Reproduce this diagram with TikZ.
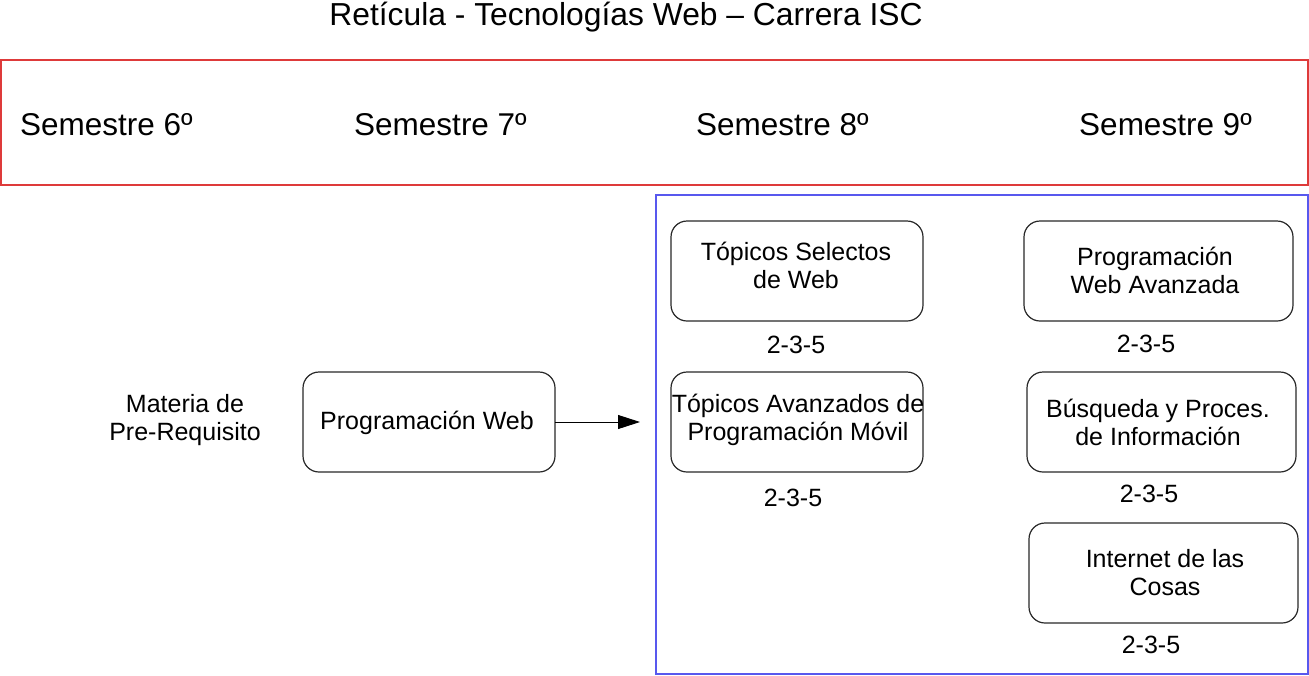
\documentclass[tikz,border=0pt]{standalone}
\usepackage{fontspec}
\setmainfont{Liberation Sans}
\usetikzlibrary{arrows.meta}
\definecolor{framered}{RGB}{222,58,58}
\definecolor{frameblue}{RGB}{88,88,238}
\definecolor{boxline}{RGB}{40,40,40}
\tikzset{
  subj/.style={draw=boxline, line width=1.2pt, rounded corners=16pt, rectangle,
    minimum width=252pt, minimum height=100pt, inner sep=0pt, outer sep=0pt},
  subjw/.style={subj, minimum width=269pt},
  txt/.style={inner sep=0pt, align=center, font=\fontsize{25}{28}\selectfont},
  credit/.style={inner sep=0pt, font=\fontsize{25}{28}\selectfont},
  semlabel/.style={inner sep=0pt, anchor=base, font=\fontsize{31.5}{34}\selectfont},
  titlestyle/.style={inner sep=0pt, anchor=base, font=\fontsize{31.8}{34}\selectfont},
  link/.style={line width=0.9pt, -{Triangle[length=22pt,width=14pt]}}
}
\begin{document}
\begin{tikzpicture}[x=1pt,y=-1pt]
\useasboundingbox (0,0) rectangle (1309,675);
% title
\node[titlestyle] (title) at (626,25) {Retícula - Tecnologías Web – Carrera ISC};
% semester band
\draw[framered, line width=1.2pt] (1,60) rectangle (1308,185);
\node[semlabel] (s6) at (106.5,135) {Semestre 6º};
\node[semlabel] (s7) at (440.5,135) {Semestre 7º};
\node[semlabel] (s8) at (782.5,135) {Semestre 8º};
\node[semlabel] (s9) at (1165.5,135) {Semestre 9º};
% blue frame
\draw[frameblue, line width=1.2pt] (656,195) rectangle (1308,674);
% prerequisite
\node[txt] (pre) at (185,420) {Materia de\\Pre-Requisito};
\node[subj] (pw) at (429,422) {};
\node[txt] (pwt) at (427,423) {Programación Web};
% semester 8
\node[subj] (tsw) at (797,271) {};
\node[txt] (tswt) at (796,265) {Tópicos Selectos\\de Web};
\node[credit] (c1) at (796,345) {2-3-5};
\node[subj] (tap) at (797,422) {};
\node[txt] (tapt) at (798,420) {Tópicos Avanzados de\\Programación Móvil};
\node[credit] (c2) at (793,498) {2-3-5};
% semester 9
\node[subjw] (pwa) at (1158.5,271) {};
\node[txt] (pwat) at (1155,270) {Programación\\Web Avanzada};
\node[credit] (c3) at (1146,344) {2-3-5};
\node[subjw] (bpi) at (1161.5,422) {};
\node[txt] (bpit) at (1158,422) {Búsqueda y Proces.\\de Información};
\node[credit] (c4) at (1149,494) {2-3-5};
\node[subjw] (iot) at (1163.5,573) {};
\node[txt] (iott) at (1165,573) {Internet de las\\Cosas};
\node[credit] (c5) at (1151,645) {2-3-5};
% connector
\coordinate (tip) at (640,422);
\draw[link] (pw.east) -- (tip);
\end{tikzpicture}
\end{document}
